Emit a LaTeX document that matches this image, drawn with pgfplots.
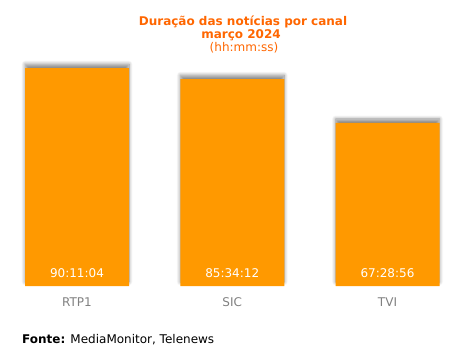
\documentclass[border=0pt]{standalone}
\usepackage{fontspec}
\setmainfont{DejaVu Sans}
\usepackage{pgfplots}
\pgfplotsset{compat=1.18}
\usetikzlibrary{shadows.blur}
\definecolor{barorange}{RGB}{255,153,0}
\definecolor{titleorange}{RGB}{255,102,0}
\definecolor{catgray}{RGB}{128,128,128}
\begin{document}
\begin{tikzpicture}[x=1pt,y=1pt]
\useasboundingbox (0,0) rectangle (451,357);
\begin{axis}[
  at={(0pt,71pt)}, anchor=south west,
  scale only axis, width=451pt, height=226pt,
  xmin=-0.496, xmax=2.409, ymin=0, ymax=93.5,
  axis line style={draw=none},
  major tick length=0pt,
  ytick=\empty,
  xtick={0,1,2},
  xticklabels={RTP1,SIC,TVI},
  xticklabel style={anchor=base, yshift=-20.7pt, text=catgray, font=\fontsize{12}{14}\selectfont},
  clip=false,
]
\addplot[ybar, bar width=104pt, fill=barorange, draw=none,
  blur shadow={shadow xshift=0pt, shadow yshift=4pt, shadow opacity=45, shadow blur steps=8, shadow blur radius=3.5pt}]
  coordinates {(0,90.18) (1,85.57) (2,67.48)};
\node[anchor=base, text=white, font=\fontsize{12}{14}\selectfont] at (axis cs:0,0) [yshift=8.3pt] {90:11:04};
\node[anchor=base, text=white, font=\fontsize{12}{14}\selectfont] at (axis cs:1,0) [yshift=8.3pt] {85:34:12};
\node[anchor=base, text=white, font=\fontsize{12}{14}\selectfont] at (axis cs:2,0) [yshift=8.3pt] {67:28:56};
\end{axis}
\node[anchor=base, text=titleorange, font=\fontsize{12}{14}\selectfont\bfseries] at (243,331.5) {Duração das notícias por canal};
\node[anchor=base, text=titleorange, font=\fontsize{12}{14}\selectfont\bfseries] at (241,318.7) {março 2024};
\node[anchor=base, text=titleorange, font=\fontsize{12}{14}\selectfont] at (244,305.5) {(hh:mm:ss)};
\node[anchor=base west, inner sep=0pt, font=\fontsize{12}{14}\selectfont] at (22,13.7) {\textbf{Fonte:} MediaMonitor, Telenews};
\end{tikzpicture}
\end{document}
